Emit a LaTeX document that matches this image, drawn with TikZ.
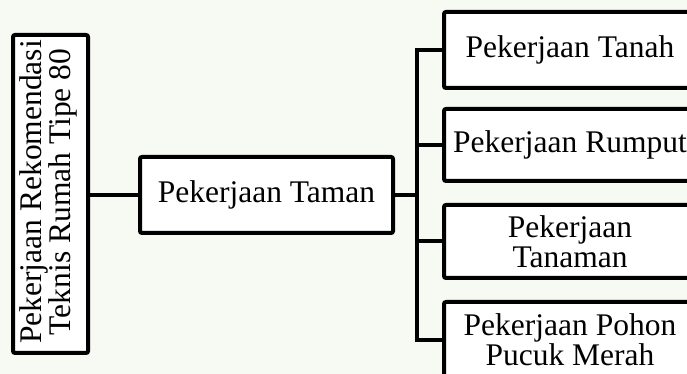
\documentclass[tikz,border=0pt]{standalone}
\usepackage{fontspec}
\setmainfont{Liberation Serif}
\begin{document}
\begin{tikzpicture}[x=1pt,y=1pt,
  box/.style={draw=black, line width=4pt, fill=white, rounded corners=2pt,
    inner sep=0pt, align=center, font=\fontsize{31.5}{30}\selectfont},
  link/.style={draw=black, line width=4pt, line join=miter}]
\path[use as bounding box, clip] (0,0) rectangle (687,374);
\fill[fill={rgb,255:red,247;green,249;blue,243}] (0,0) rectangle (687,374);
% left vertical box
\node[box, minimum width=75pt, minimum height=318pt] (root) at (50.5,180) {};
\node[rotate=90, align=center, inner sep=0pt, font=\fontsize{31.5}{29}\selectfont] (roottext) at (48,182) {Pekerjaan Rekomendasi\\Teknis Rumah Tipe 80};
% middle box
\node[box, minimum width=253pt, minimum height=76pt] (taman) at (266.5,179) {Pekerjaan Taman};
% right boxes
\node[box, minimum width=252pt, minimum height=76pt] (r1) at (570,324) {Pekerjaan Tanah};
\node[box, minimum width=252pt, minimum height=72pt] (r2) at (570,229) {Pekerjaan Rumput};
\node[box, minimum width=252pt, minimum height=73pt] (r3) at (570,132.5) {Pekerjaan\\Tanaman};
\node[box, minimum width=252pt, minimum height=76pt] (r4) at (570,34) {Pekerjaan Pohon\\Pucuk Merah};
\coordinate (t) at (417,179);
% connectors
\draw[link] (root.east |- taman.west) -- (taman.west);
\draw[link] (taman.east) -- (t);
\draw[link] (r1.west) -- (r1.west -| t) -- (r4.west -| t) -- (r4.west);
\draw[link] (r2.west -| t) -- (r2.west);
\draw[link] (r3.west -| t) -- (r3.west);
\end{tikzpicture}
\end{document}
